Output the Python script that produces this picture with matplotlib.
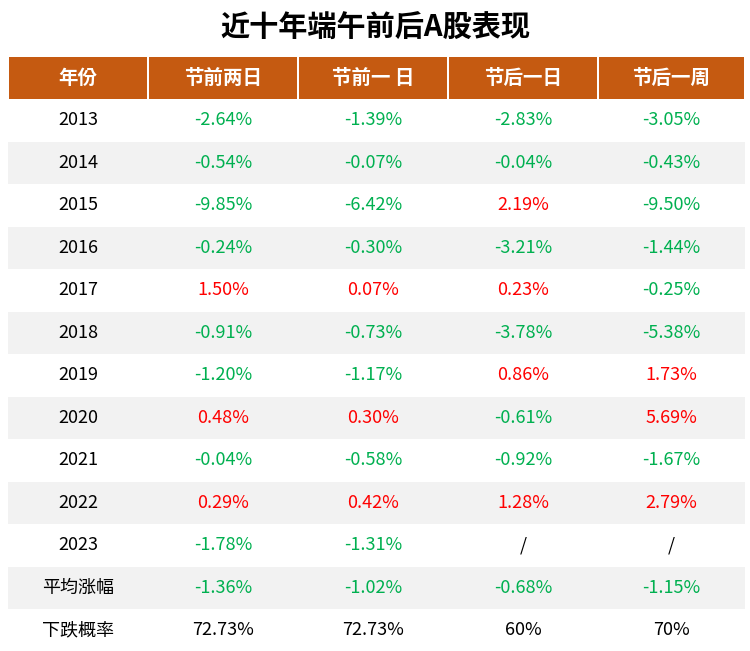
import matplotlib
matplotlib.use("Agg")
import matplotlib.pyplot as plt
from matplotlib import font_manager
from matplotlib.patches import Rectangle

# find a CJK font by file name, the family name lookup is not reliable
cjk = None
for f in font_manager.findSystemFonts():
    if "NotoSansCJK" in f or "NotoSansSC" in f or "Noto Sans CJK" in f:
        font_manager.fontManager.addfont(f)
        cjk = font_manager.FontProperties(fname=f).get_name()
        break
plt.rcParams["font.family"] = "sans-serif"
plt.rcParams["font.sans-serif"] = ([cjk] if cjk else []) + ["Noto Sans CJK SC", "Noto Sans CJK JP", "DejaVu Sans"]

title = "近十年端午前后A股表现"
headers = ["年份", "节前两日", "节前一 日", "节后一日", "节后一周"]
years = ["2013", "2014", "2015", "2016", "2017", "2018", "2019", "2020",
         "2021", "2022", "2023", "平均涨幅", "下跌概率"]
before2 = ["-2.64%", "-0.54%", "-9.85%", "-0.24%", "1.50%", "-0.91%", "-1.20%",
           "0.48%", "-0.04%", "0.29%", "-1.78%", "-1.36%", "72.73%"]
before1 = ["-1.39%", "-0.07%", "-6.42%", "-0.30%", "0.07%", "-0.73%", "-1.17%",
           "0.30%", "-0.58%", "0.42%", "-1.31%", "-1.02%", "72.73%"]
after1 = ["-2.83%", "-0.04%", "2.19%", "-3.21%", "0.23%", "-3.78%", "0.86%",
          "-0.61%", "-0.92%", "1.28%", "/", "-0.68%", "60%"]
after_week = ["-3.05%", "-0.43%", "-9.50%", "-1.44%", "-0.25%", "-5.38%", "1.73%",
              "5.69%", "-1.67%", "2.79%", "/", "-1.15%", "70%"]

W, H = 750, 651
fig = plt.figure(figsize=(W / 100, H / 100), dpi=100)
ax = fig.add_axes([0, 0, 1, 1])
ax.set_xlim(0, W)
ax.set_ylim(H, 0)
ax.axis("off")

edges = [8, 148, 298, 448, 598, 745]
centers = [(edges[i] + edges[i + 1]) / 2 for i in range(5)]
top, hh, rh = 57, 42, 42.5

ax.text(W / 2, 28, title, ha="center", va="center", fontsize=21, fontweight="bold")

for i, h in enumerate(headers):
    ax.add_patch(Rectangle((edges[i] + 1, top), edges[i + 1] - edges[i] - 2, hh,
                           color="#C55A11", lw=0))
    ax.text(centers[i], top + hh / 2, h, ha="center", va="center", fontsize=14,
            color="white", fontweight="bold")

green, red = "#00B050", "#FF0000"
cols = [before2, before1, after1, after_week]
y0 = top + hh
for r, yr in enumerate(years):
    y = y0 + r * rh
    if r % 2 == 1:
        ax.add_patch(Rectangle((edges[0], y), edges[-1] - edges[0], rh,
                               color="#F2F2F2", lw=0))
    yc = y + rh / 2
    ax.text(centers[0], yc, yr, ha="center", va="center", fontsize=13)
    for c, col in enumerate(cols):
        v = col[r]
        if r == len(years) - 1 or v == "/":
            color = "black"
        else:
            color = green if v.startswith("-") else red
        ax.text(centers[c + 1], yc, v, ha="center", va="center", fontsize=13,
                color=color)

fig.savefig("out.png", dpi=100)
